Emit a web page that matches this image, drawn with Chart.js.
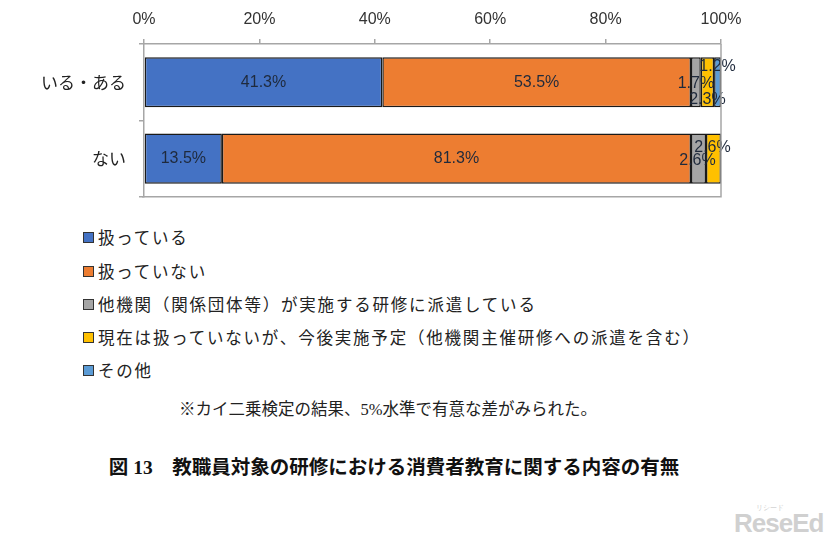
<!DOCTYPE html>
<html lang="ja">
<head>
<meta charset="utf-8">
<script src="https://cdn.jsdelivr.net/npm/chart.js@4.4.1/dist/chart.umd.min.js"></script>
<style>
  html,body{margin:0;padding:0;background:#fff;}
  #wrap{position:relative;width:826px;height:547px;overflow:hidden;font-family:"Noto Sans CJK JP","Noto Sans",sans-serif;}
  #cv{position:absolute;left:0;top:0;}
  .lg{position:absolute;left:83px;height:20px;display:flex;align-items:center;font-size:16.5px;letter-spacing:1.8px;color:#222;white-space:nowrap;}
  .lg i{display:inline-block;width:9px;height:9px;border:1px solid #333;margin-right:4px;}
  #note{position:absolute;left:0;width:776px;top:396px;text-align:center;font-size:16.5px;color:#222;font-family:"Liberation Serif","Noto Sans CJK JP",serif;white-space:nowrap;}
  #title{position:absolute;left:0;width:788px;top:451px;text-align:center;font-size:19.5px;font-weight:bold;color:#111;font-family:"Liberation Serif","Noto Sans CJK JP",serif;white-space:nowrap;}
  #wm{position:absolute;left:734px;top:508px;font-family:"Liberation Sans",sans-serif;font-weight:bold;font-size:26px;color:#d0d0d0;letter-spacing:-1px;}
  #wm small{position:absolute;left:22px;top:-5px;font-size:7px;font-weight:normal;letter-spacing:0;}
</style>
</head>
<body>
<div id="wrap">
  <canvas id="cv" width="826" height="220"></canvas>
  <div id="legend"></div>
  <div id="note">※カイ二乗検定の結果、5%水準で有意な差がみられた。</div>
  <div id="title">図 13　教職員対象の研修における消費者教育に関する内容の有無</div>
  <div id="wm">ReseEd<small>リシード</small></div>
</div>
<script>
const categories = ["いる・ある", "ない"];
const seriesNames = [
  "扱っている",
  "扱っていない",
  "他機関（関係団体等）が実施する研修に派遣している",
  "現在は扱っていないが、今後実施予定（他機関主催研修への派遣を含む）",
  "その他"
];
const seriesAtsukatteiru   = [41.3, 13.5];
const seriesAtsukatteinai  = [53.5, 81.3];
const seriesHaken          = [1.7, 2.6];
const seriesYotei          = [2.3, 2.6];
const seriesSonota         = [1.2, 0];
const xTicks = [0, 20, 40, 60, 80, 100];

const colors = ["#4472C4", "#ED7D31", "#A5A5A5", "#FFC000", "#5B9BD5"];
const allSeries = [seriesAtsukatteiru, seriesAtsukatteinai, seriesHaken, seriesYotei, seriesSonota];

// label nudges (style only): [datasetIndex][categoryIndex] => [dx, dy]
const labelNudge = {
  2: {0: [0, 1], 1: [-1, 2]},
  3: {0: [0, 17], 1: [-1, -11]},
  4: {0: [0, -16]}
};

const dataLabels = {
  id: 'dataLabels',
  afterDatasetsDraw(chart) {
    const ctx = chart.ctx;
    ctx.save();
    ctx.font = '16px "Liberation Sans", sans-serif';
    ctx.fillStyle = '#1f2a3c';
    ctx.textAlign = 'center';
    ctx.textBaseline = 'middle';
    chart.data.datasets.forEach((ds, di) => {
      const meta = chart.getDatasetMeta(di);
      meta.data.forEach((el, i) => {
        const v = ds.data[i];
        if (!v) return;
        const p = el.getProps(['x', 'y', 'base'], true);
        let cx = (p.x + p.base) / 2, cy = p.y;
        const n = labelNudge[di] && labelNudge[di][i];
        if (n) { cx += n[0]; cy += n[1]; }
        ctx.fillText(v.toFixed(1) + '%', cx, cy);
      });
    });
    ctx.restore();
  }
};

const frame = {
  id: 'frame',
  afterDraw(chart) {
    const a = chart.chartArea, ctx = chart.ctx;
    ctx.save();
    ctx.strokeStyle = '#a6a6a6';
    ctx.lineWidth = 1.5;
    ctx.beginPath();
    ctx.moveTo(a.left - 2, a.bottom);
    ctx.lineTo(a.right, a.bottom);
    ctx.lineTo(a.right, a.top);
    ctx.stroke();
    ctx.restore();
  }
};

new Chart(document.getElementById('cv'), {
  type: 'bar',
  data: {
    labels: categories,
    datasets: allSeries.map((d, i) => ({
      label: seriesNames[i],
      data: d,
      backgroundColor: colors[i],
      borderColor: '#1a1a1a',
      borderWidth: 1.5,
      borderSkipped: false,
      barPercentage: 0.82,
      categoryPercentage: 0.8
    }))
  },
  options: {
    indexAxis: 'y',
    responsive: false,
    animation: false,
    layout: {padding: {left: 0, right: 105, top: 0, bottom: 21}},
    plugins: {legend: {display: false}, tooltip: {enabled: false}},
    scales: {
      x: {
        position: 'top',
        stacked: true,
        min: 0, max: 100,
        afterBuildTicks(s) { s.ticks = xTicks.map(v => ({value: v})); },
        afterFit(s) { s.height = 44; },
        ticks: {
          callback: v => v + '%',
          font: {family: '"Liberation Sans", sans-serif', size: 16},
          color: '#333',
          padding: 10
        },
        grid: {drawOnChartArea: false, tickLength: 5, color: '#a6a6a6', lineWidth: 1.5},
        border: {display: true, color: '#a6a6a6', width: 1.5}
      },
      y: {
        stacked: true,
        afterFit(s) { s.width = 144; },
        ticks: {
          font: {family: '"Noto Sans CJK JP", sans-serif', size: 17},
          color: '#222',
          padding: 13
        },
        grid: {drawOnChartArea: false, tickLength: 5, color: '#a6a6a6', lineWidth: 1.5, offset: true},
        border: {display: true, color: '#a6a6a6', width: 1.5}
      }
    }
  },
  plugins: [dataLabels, frame]
});

// HTML legend built from the series names and colors
const legendTops = [227, 261, 294, 327, 360];
const lg = document.getElementById('legend');
seriesNames.forEach((n, i) => {
  const d = document.createElement('div');
  d.className = 'lg';
  d.style.top = legendTops[i] + 'px';
  const b = document.createElement('i');
  b.style.background = colors[i];
  d.appendChild(b);
  d.appendChild(document.createTextNode(n));
  lg.appendChild(d);
});
</script>
</body>
</html>
